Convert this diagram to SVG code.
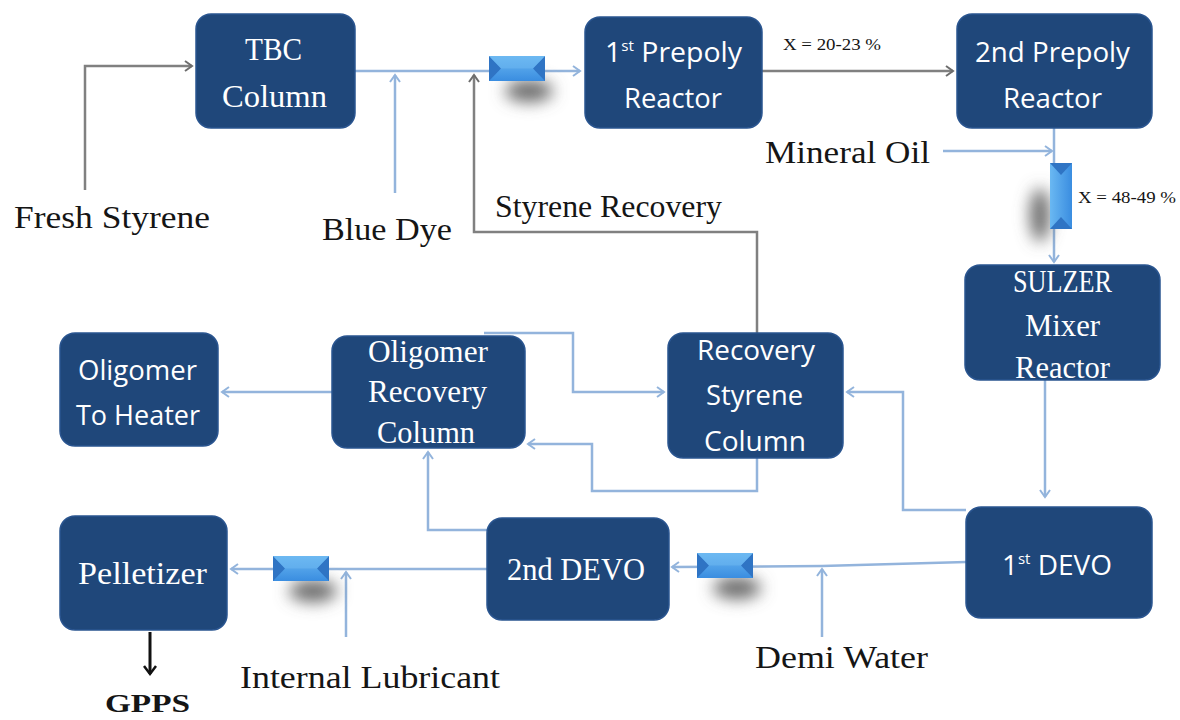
<svg xmlns="http://www.w3.org/2000/svg" width="1180" height="720" viewBox="0 0 1180 720">
<style>
.box{fill:#1f477a;stroke:#2a5590;stroke-width:1.5}
.ts{font-family:"Open Sans","Liberation Sans",sans-serif;fill:#ffffff;text-anchor:start}
.tr{font-family:"Liberation Serif",serif;fill:#ffffff;text-anchor:start}
.lbl{font-family:"Liberation Serif",serif;fill:#151515}
.lb{fill:none;stroke:#93b4dc;stroke-width:2.5}
.gr{fill:none;stroke:#808080;stroke-width:2.5}
</style>
<defs>
<marker id="ab" markerWidth="12" markerHeight="12" refX="9" refY="6" orient="auto" markerUnits="userSpaceOnUse">
<polyline points="2,1 9,6 2,11" fill="none" stroke="#93b4dc" stroke-width="2"/>
</marker>
<marker id="ag" markerWidth="12" markerHeight="12" refX="9" refY="6" orient="auto" markerUnits="userSpaceOnUse">
<polyline points="2,1 9,6 2,11" fill="none" stroke="#6d6d6d" stroke-width="2"/>
</marker>
<marker id="ak" markerWidth="14" markerHeight="14" refX="10" refY="7" orient="auto" markerUnits="userSpaceOnUse">
<polyline points="2,1 10,7 2,13" fill="none" stroke="#111" stroke-width="2.5"/>
</marker>
<filter id="blur" filterUnits="userSpaceOnUse" x="-2000" y="-2000" width="5000" height="5000"><feGaussianBlur stdDeviation="8"/></filter>
<linearGradient id="hxg" x1="0" y1="0" x2="0" y2="1">
<stop offset="0" stop-color="#6ab8f2"/><stop offset="1" stop-color="#3a8de0"/>
</linearGradient>
<linearGradient id="hxv" x1="0" y1="0" x2="1" y2="0">
<stop offset="0" stop-color="#6ab8f2"/><stop offset="1" stop-color="#3a8de0"/>
</linearGradient>
<g id="hx">
<ellipse cx="40" cy="35" rx="24" ry="11" fill="#6a6a6a" filter="url(#blur)"/>
<rect x="0" y="0" width="56" height="25" fill="url(#hxg)"/>
<polygon points="0,0 12,12.5 0,25" fill="#2f74c4"/>
<polygon points="56,0 44,12.5 56,25" fill="#2f74c4"/>
<polygon points="0,0 56,0 44,12.5 12,12.5" fill="#6fbaf2" opacity="0.5"/>
</g>
</defs>

<g id="connectors">
<polyline class="gr" points="85,190 85,66 192,66" marker-end="url(#ag)"/>
<line class="lb" x1="355" y1="71" x2="580" y2="71" marker-end="url(#ab)"/>
<line class="lb" x1="395" y1="193" x2="395" y2="75" marker-end="url(#ab)"/>
<polyline class="gr" points="757,333 757,232 474,232 474,75" marker-end="url(#ag)"/>
<line class="gr" x1="762" y1="71" x2="953" y2="71" marker-end="url(#ag)"/>
<line class="lb" x1="943" y1="151" x2="1052" y2="151" marker-end="url(#ab)"/>
<line class="lb" x1="1054" y1="128" x2="1054" y2="262" marker-end="url(#ab)"/>
<line class="lb" x1="1045" y1="380" x2="1045" y2="497" marker-end="url(#ab)"/>
<polyline class="lb" points="966,510 903,510 903,392 847,392" marker-end="url(#ab)"/>
<polyline class="lb" points="757,458 757,491 592,491 592,444 528,444" marker-end="url(#ab)"/>
<polyline class="lb" points="484,333 573,333 573,392 664,392" marker-end="url(#ab)"/>
<line class="lb" x1="332" y1="392" x2="222" y2="392" marker-end="url(#ab)"/>
<polyline class="lb" points="487,530 428,530 428,452" marker-end="url(#ab)"/>
<polyline class="lb" points="966,562 822,566 672,567" marker-end="url(#ab)"/>
<line class="lb" x1="822" y1="637" x2="822" y2="569" marker-end="url(#ab)"/>
<line class="lb" x1="487" y1="569" x2="231" y2="569" marker-end="url(#ab)"/>
<line class="lb" x1="346" y1="637" x2="346" y2="572" marker-end="url(#ab)"/>
<line x1="150" y1="632" x2="150" y2="674" stroke="#111" stroke-width="3" marker-end="url(#ak)"/>
</g>

<g id="heat-exchangers">
<use href="#hx" x="489" y="56"/>
<use href="#hx" x="697" y="553"/>
<use href="#hx" x="273" y="556"/>
<g id="hx-vertical">
<ellipse cx="1040" cy="215" rx="10" ry="27" fill="#6a6a6a" filter="url(#blur)"/>
<rect x="1050" y="163" width="22" height="66" fill="url(#hxv)"/>
<polygon points="1050,163 1072,163 1061,175" fill="#2f74c4"/>
<polygon points="1050,229 1072,229 1061,217" fill="#2f74c4"/>
</g>
</g>

<g id="tbc"><rect class="box" x="196" y="14" width="159" height="114" rx="15"/>
<text class="tr" x="245" y="60" font-size="32" textLength="57" lengthAdjust="spacingAndGlyphs">TBC</text>
<text class="tr" x="222" y="107" font-size="32" textLength="105" lengthAdjust="spacingAndGlyphs">Column</text></g>

<g id="prepoly1"><rect class="box" x="585" y="17" width="177" height="111" rx="15"/>
<text class="ts" x="605" y="62" font-size="28" textLength="137" lengthAdjust="spacingAndGlyphs">1<tspan font-size="15" dy="-11">st</tspan><tspan dy="11"> Prepoly</tspan></text>
<text class="ts" x="624" y="108" font-size="28" textLength="98" lengthAdjust="spacingAndGlyphs">Reactor</text></g>

<g id="prepoly2"><rect class="box" x="957" y="14" width="195" height="114" rx="15"/>
<text class="ts" x="975" y="62" font-size="28" textLength="155" lengthAdjust="spacingAndGlyphs">2nd Prepoly</text>
<text class="ts" x="1003" y="108" font-size="28" textLength="99" lengthAdjust="spacingAndGlyphs">Reactor</text></g>

<g id="sulzer"><rect class="box" x="965" y="265" width="195" height="115" rx="15"/>
<text class="tr" x="1013" y="292" font-size="31" textLength="99" lengthAdjust="spacingAndGlyphs">SULZER</text>
<text class="tr" x="1025" y="336" font-size="31" textLength="75" lengthAdjust="spacingAndGlyphs">Mixer</text>
<text class="tr" x="1015" y="378" font-size="31" textLength="95" lengthAdjust="spacingAndGlyphs">Reactor</text></g>

<g id="rec-styrene"><rect class="box" x="668" y="333" width="175" height="125" rx="15"/>
<text class="ts" x="697" y="360" font-size="28" textLength="118" lengthAdjust="spacingAndGlyphs">Recovery</text>
<text class="ts" x="706" y="405" font-size="28" textLength="97" lengthAdjust="spacingAndGlyphs">Styrene</text>
<text class="ts" x="704" y="451" font-size="28" textLength="102" lengthAdjust="spacingAndGlyphs">Column</text></g>

<g id="oligomer-rec"><rect class="box" x="332" y="336" width="193" height="112" rx="15"/>
<text class="tr" x="368" y="362" font-size="31" textLength="120" lengthAdjust="spacingAndGlyphs">Oligomer</text>
<text class="tr" x="368" y="402" font-size="31" textLength="119" lengthAdjust="spacingAndGlyphs">Recovery</text>
<text class="tr" x="377" y="443" font-size="31" textLength="98" lengthAdjust="spacingAndGlyphs">Column</text></g>

<g id="oligomer-heater"><rect class="box" x="60" y="333" width="158" height="113" rx="15"/>
<text class="ts" x="78" y="380" font-size="28" textLength="119" lengthAdjust="spacingAndGlyphs">Oligomer</text>
<text class="ts" x="76" y="425" font-size="28" textLength="124" lengthAdjust="spacingAndGlyphs">To Heater</text></g>

<g id="pelletizer"><rect class="box" x="60" y="516" width="167" height="114" rx="15"/>
<text class="tr" x="78" y="584" font-size="31" textLength="129" lengthAdjust="spacingAndGlyphs">Pelletizer</text></g>

<g id="devo2"><rect class="box" x="487" y="518" width="182" height="102" rx="15"/>
<text class="tr" x="507" y="580" font-size="31" textLength="138" lengthAdjust="spacingAndGlyphs">2nd DEVO</text></g>

<g id="devo1"><rect class="box" x="966" y="507" width="186" height="111" rx="15"/>
<text class="ts" x="1002" y="575" font-size="28" textLength="110" lengthAdjust="spacingAndGlyphs">1<tspan font-size="15" dy="-11">st</tspan><tspan dy="11"> DEVO</tspan></text></g>

<g id="labels">
<text class="lbl" x="14" y="228" font-size="31" textLength="196" lengthAdjust="spacingAndGlyphs">Fresh Styrene</text>
<text class="lbl" x="322" y="240" font-size="31" textLength="130" lengthAdjust="spacingAndGlyphs">Blue Dye</text>
<text class="lbl" x="495" y="217" font-size="31" textLength="227" lengthAdjust="spacingAndGlyphs">Styrene Recovery</text>
<text class="lbl" x="765" y="163" font-size="31" textLength="165" lengthAdjust="spacingAndGlyphs">Mineral Oil</text>
<text class="lbl" x="783" y="50" font-size="16" textLength="98" lengthAdjust="spacingAndGlyphs">X = 20-23 %</text>
<text class="lbl" x="1078" y="203" font-size="16" textLength="98" lengthAdjust="spacingAndGlyphs">X = 48-49 %</text>
<text class="lbl" x="755" y="668" font-size="31" textLength="173" lengthAdjust="spacingAndGlyphs">Demi Water</text>
<text class="lbl" x="240" y="688" font-size="31" textLength="260" lengthAdjust="spacingAndGlyphs">Internal Lubricant</text>
<text class="lbl" x="105" y="712" font-size="26" font-weight="bold" textLength="85" lengthAdjust="spacingAndGlyphs">GPPS</text>
</g>
</svg>
